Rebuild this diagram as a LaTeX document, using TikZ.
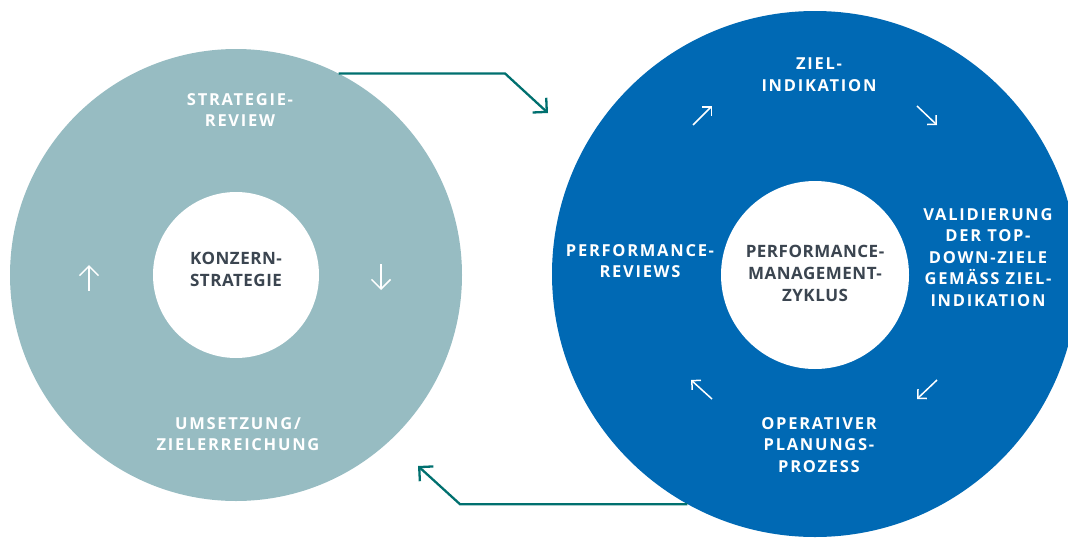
\documentclass[tikz,border=0pt]{standalone}
\usepackage{fontspec}
\usetikzlibrary{arrows.meta}
\newfontfamily\lbl[LetterSpace=10.5]{Open Sans}
\newfontfamily\ctr[LetterSpace=3]{Open Sans}
\definecolor{lgray}{HTML}{97BCC2}
\definecolor{mblue}{HTML}{0069B4}
\definecolor{dteal}{HTML}{00706F}
\definecolor{dtext}{HTML}{3B4550}
\tikzset{
  disc/.style={circle, inner sep=0pt, draw=none},
  wlabel/.style={anchor=north, inner sep=0pt, align=center, text=white,
    font=\lbl\bfseries\fontsize{16.5}{21.5}\selectfont},
  clabel/.style={anchor=north, inner sep=0pt, align=center, text=dtext,
    font=\ctr\bfseries\fontsize{17}{22}\selectfont},
  smallarr/.style={draw=white, line width=1.5pt, -{Straight Barb[length=6.5pt,width=13pt]}},
  vertarr/.style={draw=white, line width=1.5pt, -{Straight Barb[length=9.5pt,width=19pt]}},
  bigarr/.style={draw=dteal, line width=2.3pt, -{Straight Barb[length=10pt,width=20pt]}},
}
\begin{document}
\begin{tikzpicture}[x=1pt,y=-1pt]
\clip (0,0) rectangle (1068,538);
\fill[white] (0,0) rectangle (1068,538);
% left circles
\node[disc, fill=lgray, minimum size=452pt] (L) at (236,275) {};
\node[disc, fill=white, minimum size=166pt] (Li) at (236,275) {};
% right circles
\node[disc, fill=mblue, minimum size=526pt] (R) at (815,274) {};
\node[disc, fill=white, minimum size=188pt] (Ri) at (815,275) {};
% left labels
\node[wlabel] (t1) at (240,93) {STRATEGIE-\\REVIEW};
\node[clabel] (t2) at (236,252) {KONZERN-\\STRATEGIE};
\node[wlabel] (t3) at (238,417) {UMSETZUNG/\\ZIELERREICHUNG};
% right labels
\node[wlabel] (r1) at (819,58) {ZIEL-\\INDIKATION};
\node[wlabel] (r2) at (640,244) {PERFORMANCE-\\REVIEWS};
\node[clabel] (r3) at (815,245) {PERFORMANCE-\\MANAGEMENT-\\ZYKLUS};
\node[wlabel] (r4) at (988,208) {VALIDIERUNG\\DER TOP-\\DOWN-ZIELE\\GEMÄSS ZIEL-\\INDIKATION};
\node[wlabel] (r5) at (819,417) {OPERATIVER\\PLANUNGS-\\PROZESS};
% small arrows left
\coordinate (ua) at (89,291); \coordinate (ub) at (89,265);
\coordinate (da) at (381,264); \coordinate (db) at (381,290);
\draw[vertarr] (ua) -- (ub);
\draw[vertarr] (da) -- (db);
% small arrows right
\coordinate (ne1) at (693,125); \coordinate (ne2) at (712,106);
\coordinate (se1) at (917,106); \coordinate (se2) at (937,125);
\coordinate (sw1) at (937,380); \coordinate (sw2) at (917,399);
\coordinate (nw1) at (712,399); \coordinate (nw2) at (691,380);
\draw[smallarr] (ne1) -- (ne2);
\draw[smallarr] (se1) -- (se2);
\draw[smallarr] (sw1) -- (sw2);
\draw[smallarr] (nw1) -- (nw2);
% big connectors
\coordinate (k1) at (505,71); \coordinate (e1) at (548,113);
\coordinate (k2) at (460,508); \coordinate (e2) at (418,466);
\draw[bigarr] (L.63.7) -- (L.63.7 -| k1) -- (e1);
\draw[bigarr] (R.241.5) -- (R.241.5 -| k2) -- (e2);
\end{tikzpicture}
\end{document}
